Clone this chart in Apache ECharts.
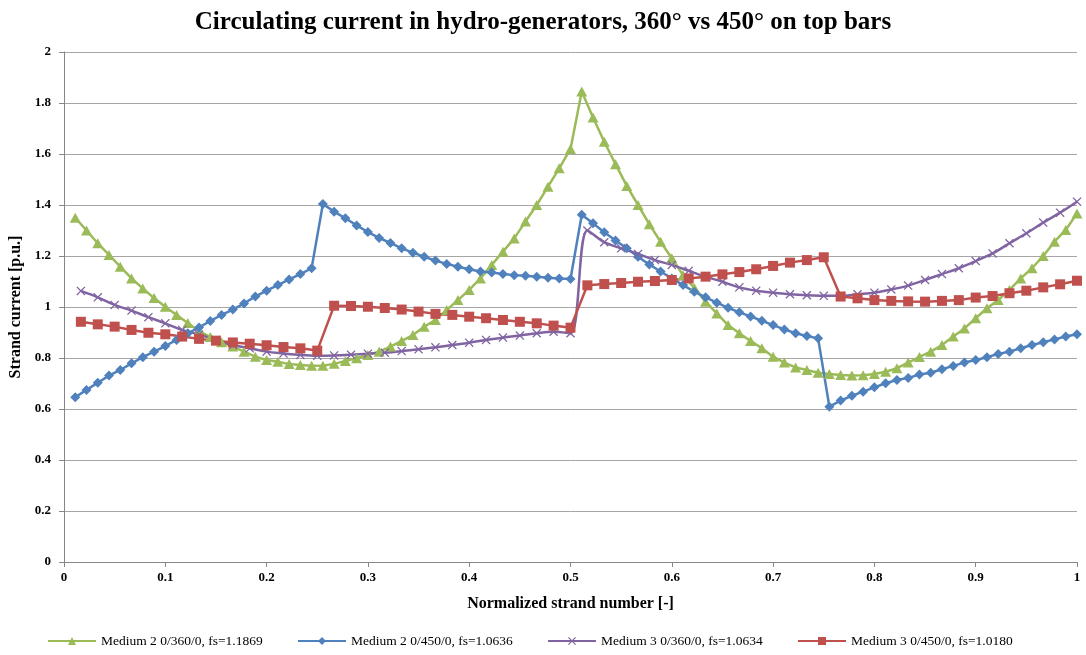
<!DOCTYPE html>
<html>
<head>
<meta charset="utf-8">
<script src="https://cdn.jsdelivr.net/npm/echarts@6/dist/echarts.min.js"></script>
<style>
html,body{margin:0;padding:0;background:#fff;}
#chart{width:1086px;height:655px;}
</style>
</head>
<body>
<div id="chart"></div>
<script>
// Strand counts (points are at strand k / N, k = 1..N)
const strandsMedium2 = 90;
const strandsMedium3 = 60;

const seriesNames = [
  'Medium 2 0/360/0, fs=1.1869',
  'Medium 2 0/450/0, fs=1.0636',
  'Medium 3 0/360/0, fs=1.0634',
  'Medium 3 0/450/0, fs=1.0180'
];

const xTickLabels = ['0','0.1','0.2','0.3','0.4','0.5','0.6','0.7','0.8','0.9','1'];

const m2_360 = [
  1.350,1.300,1.250,1.204,1.158,1.112,1.073,1.035,1.001,0.969,
  0.937,0.905,0.882,0.862,0.845,0.825,0.805,0.792,0.785,0.776,
  0.773,0.770,0.770,0.777,0.788,0.799,0.812,0.825,0.845,0.867,
  0.890,0.923,0.949,0.988,1.027,1.067,1.112,1.165,1.217,1.269,
  1.335,1.400,1.472,1.544,1.620,1.845,1.743,1.648,1.560,1.475,
  1.400,1.325,1.256,1.191,1.125,1.075,1.021,0.975,0.929,0.897,
  0.867,0.838,0.805,0.782,0.763,0.753,0.742,0.737,0.733,0.731,
  0.732,0.737,0.746,0.760,0.782,0.804,0.825,0.851,0.884,0.916,
  0.956,0.995,1.027,1.067,1.112,1.152,1.200,1.256,1.302,1.367
];

const m2_450 = [
  0.646,0.675,0.703,0.731,0.753,0.779,0.803,0.825,0.847,0.871,
  0.897,0.920,0.945,0.969,0.990,1.014,1.041,1.064,1.086,1.108,
  1.129,1.152,1.404,1.374,1.348,1.320,1.294,1.271,1.251,1.230,
  1.213,1.197,1.182,1.169,1.158,1.148,1.139,1.135,1.129,1.125,
  1.123,1.119,1.115,1.112,1.110,1.362,1.328,1.293,1.261,1.230,
  1.197,1.167,1.139,1.112,1.086,1.060,1.038,1.017,0.997,0.979,
  0.963,0.946,0.929,0.912,0.897,0.886,0.877,0.609,0.633,0.652,
  0.668,0.685,0.701,0.714,0.722,0.735,0.742,0.756,0.769,0.782,
  0.792,0.803,0.816,0.825,0.838,0.851,0.862,0.873,0.884,0.893
];

const m3_360 = [
  1.063,1.038,1.008,0.986,0.960,0.936,0.910,0.892,0.871,0.851,
  0.838,0.825,0.818,0.812,0.809,0.810,0.813,0.817,0.821,0.827,
  0.834,0.842,0.851,0.860,0.871,0.880,0.888,0.897,0.903,0.897,
  1.300,1.254,1.230,1.208,1.184,1.165,1.142,1.119,1.099,1.077,
  1.064,1.056,1.050,1.046,1.044,1.044,1.050,1.056,1.069,1.084,
  1.106,1.129,1.152,1.180,1.210,1.250,1.289,1.331,1.370,1.413
];

const m3_450 = [
  0.942,0.932,0.923,0.910,0.899,0.893,0.884,0.875,0.868,0.861,
  0.856,0.850,0.843,0.838,0.829,1.005,1.004,1.001,0.996,0.990,
  0.982,0.973,0.969,0.962,0.956,0.949,0.942,0.936,0.927,0.919,
  1.085,1.090,1.094,1.099,1.102,1.106,1.112,1.119,1.128,1.137,
  1.148,1.161,1.174,1.184,1.195,1.041,1.034,1.027,1.024,1.022,
  1.021,1.024,1.027,1.037,1.043,1.054,1.064,1.077,1.089,1.103
];

function pairs(values, n) {
  return values.map((v, k) => [(k + 1) / n, v]);
}

const FONT = 'Liberation Serif';
const colors = ['#9BBB59', '#4F81BD', '#8064A2', '#C0504D'];
const crossPath = 'path://M0,1L1,0L5,4L9,0L10,1L6,5L10,9L9,10L5,6L1,10L0,9L4,5Z';

const chart = echarts.init(document.getElementById('chart'), null, {renderer: 'canvas'});

function legendAt(left, name) {
  return {
    data: [name], left: left, top: 634, orient: 'horizontal', padding: 0,
    itemWidth: 48, itemHeight: 10, itemGap: 2,
    textStyle: {fontFamily: FONT, fontSize: 13.5, color: '#000'},
    selectedMode: false
  };
}

chart.setOption({
  animation: false,
  backgroundColor: '#fff',
  color: colors,
  title: {
    text: 'Circulating current in hydro-generators, 360\u00b0 vs 450\u00b0 on top bars',
    left: 'center', top: 5,
    textStyle: {fontFamily: FONT, fontSize: 25, fontWeight: 'bold', color: '#000'}
  },
  legend: [
    legendAt(47, seriesNames[0]),
    legendAt(297, seriesNames[1]),
    legendAt(547, seriesNames[2]),
    legendAt(797, seriesNames[3])
  ],
  grid: {left: 64, right: 9, top: 52, bottom: 93, containLabel: false, outerBoundsMode: 'none'},
  xAxis: {
    type: 'value', min: 0, max: 1, interval: 0.1,
    name: 'Normalized strand number [-]', nameLocation: 'middle', nameGap: 34,
    nameTextStyle: {fontFamily: FONT, fontSize: 16, fontWeight: 'bold', color: '#000'},
    axisLine: {show: true, lineStyle: {color: '#868686', width: 1}},
    axisTick: {show: true, length: 5, lineStyle: {color: '#868686'}},
    axisLabel: {
      fontFamily: FONT, fontSize: 13, fontWeight: 'bold', color: '#000', margin: 9,
      formatter: function (v) { return xTickLabels[Math.round(v * 10)]; }
    },
    splitLine: {show: false}
  },
  yAxis: {
    type: 'value', min: 0, max: 2, interval: 0.2,
    name: 'Strand current [p.u.]', nameLocation: 'middle', nameGap: 35, nameRotate: 90,
    nameTextStyle: {fontFamily: FONT, fontSize: 16, fontWeight: 'bold', color: '#000'},
    axisLine: {show: true, lineStyle: {color: '#868686', width: 1}},
    axisTick: {show: true, length: 5, lineStyle: {color: '#868686'}},
    axisLabel: {
      fontFamily: FONT, fontSize: 13, fontWeight: 'bold', color: '#000', margin: 13,
      formatter: function (v) { return String(+v.toFixed(1)); }
    },
    splitLine: {show: true, lineStyle: {color: '#A6A6A6', width: 1}}
  },
  series: [
    {
      name: seriesNames[0], type: 'line', data: pairs(m2_360, strandsMedium2),
      symbol: 'triangle', symbolSize: [11, 10], showAllSymbol: true,
      lineStyle: {width: 2.5, color: colors[0]}, itemStyle: {color: colors[0]}
    },
    {
      name: seriesNames[1], type: 'line', data: pairs(m2_450, strandsMedium2),
      symbol: 'diamond', symbolSize: [10, 10], showAllSymbol: true,
      lineStyle: {width: 2.5, color: colors[1]}, itemStyle: {color: colors[1]}
    },
    {
      name: seriesNames[2], type: 'line', data: pairs(m3_360, strandsMedium3),
      symbol: crossPath, symbolSize: 9, showAllSymbol: true, smooth: 0.35,
      lineStyle: {width: 2.5, color: colors[2]}, itemStyle: {color: colors[2]}
    },
    {
      name: seriesNames[3], type: 'line', data: pairs(m3_450, strandsMedium3),
      symbol: 'rect', symbolSize: 10, showAllSymbol: true,
      lineStyle: {width: 2.5, color: colors[3]}, itemStyle: {color: colors[3]}
    }
  ]
});
</script>
</body>
</html>
